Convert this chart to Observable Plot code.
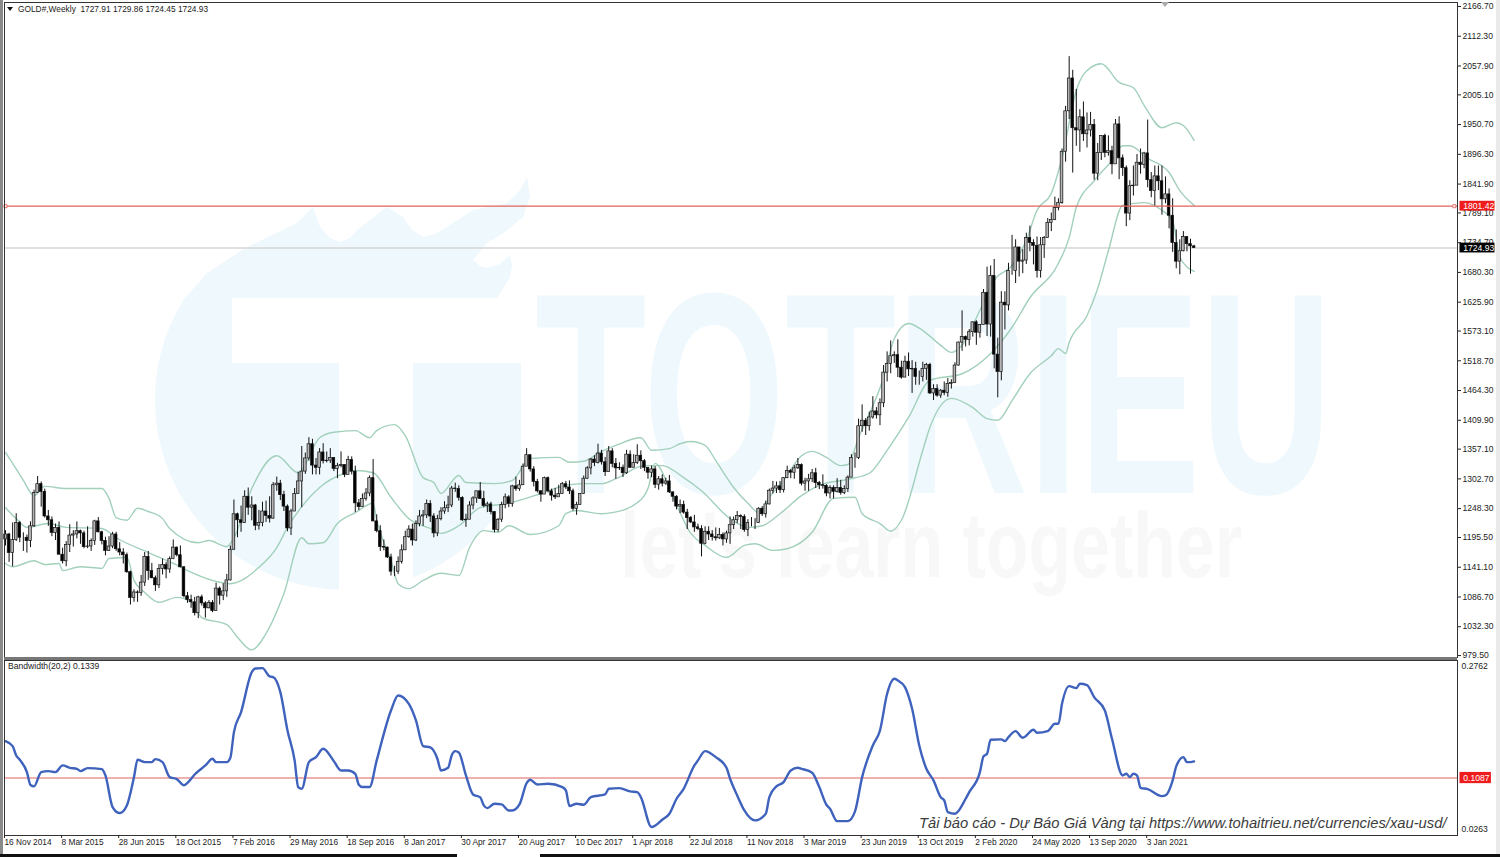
<!DOCTYPE html>
<html><head><meta charset="utf-8">
<script src="https://cdn.jsdelivr.net/npm/d3@7"></script>
<script src="https://cdn.jsdelivr.net/npm/@observablehq/plot@0.6"></script>
<style>
html,body{margin:0;padding:0;background:#fff;width:1500px;height:857px;overflow:hidden}
#page{position:relative;width:1500px;height:857px;font-family:"Liberation Sans",Arial,sans-serif}
#page>div,#page>svg{position:absolute}
.wmb{background:#eef8fd}.wmw{background:#fff}
#main,#lower{z-index:2}
#main{left:0;top:0}#lower{left:0;top:657px}
</style></head><body>
<div id="page">
<div class="wmb" style="left:155px;top:210px;width:380px;height:380px;border-radius:50%;clip-path:inset(88px 0 0 0)"></div>
<div class="wmb" style="left:0;top:0;width:1500px;height:857px;clip-path:polygon(185px 298px,207px 273px,247px 247px,297px 223px,313px 207px,320px 227px,330px 238px,340px 242px,350px 238px,357px 230px,387px 207px,403px 217px,412px 230px,423px 237px,435px 234px,447px 227px,473px 210px,507px 203px,520px 190px,527px 177px,530px 197px,523px 217px,505px 232px,487px 243px,473px 260px,480px 266px,487px 268px,500px 264px,510px 255px,512px 265px,510px 277px,497px 298px)"></div>
<div class="wmw" style="left:232px;top:298px;width:303px;height:65px"></div>
<div class="wmw" style="left:339px;top:363px;width:74px;height:232px"></div>
<div class="wmw" style="left:521px;top:298px;width:40px;height:262px"></div>
<svg style="left:0;top:0;z-index:1" width="1500" height="857">
<text transform="translate(535,493) scale(0.6355,1)" font-family="Liberation Sans" font-weight="700" font-size="287" fill="#eef8fd">TOTRIEU</text>
<text transform="translate(620,577) scale(0.759,1)" font-family="Liberation Sans" font-weight="700" font-size="92" fill="#f8f8f8">let's learn together</text>
</svg>
<div style="left:0;top:0;width:3px;height:857px;background:#8a8a8a;z-index:3"></div>
<div style="left:1496px;top:0;width:4px;height:857px;background:#eaeaea"></div>
<div style="left:0;top:854px;width:457px;height:3px;background:#111;z-index:3"></div>
<div style="left:540px;top:854px;width:960px;height:3px;background:#111;z-index:3"></div>
<div id="main"></div>
<div id="lower"></div>
<div style="left:4px;top:656.5px;width:1453px;height:3px;background:#777;z-index:3"></div>
<div style="left:7px;top:6.5px;z-index:4;width:0;height:0;border-left:3.5px solid transparent;border-right:3.5px solid transparent;border-top:4px solid #111"></div>
<div style="left:18px;top:4px;z-index:4;font-size:8.35px;color:#222;white-space:pre;line-height:10px">GOLD#,Weekly  1727.91 1729.86 1724.45 1724.93</div>
<div style="left:8px;top:661px;z-index:4;font-size:8.6px;color:#222;white-space:pre;line-height:10px">Bandwidth(20,2) 0.1339</div>
<div style="left:1161px;top:2px;z-index:4;width:0;height:0;border-left:4px solid transparent;border-right:4px solid transparent;border-top:5px solid #aaa"></div>
<div style="left:919px;top:814px;z-index:4;font-size:14.75px;font-style:italic;color:#3c3c3c;white-space:pre;line-height:18px">Tải báo cáo - Dự Báo Giá Vàng tại https://www.tohaitrieu.net/currencies/xau-usd/</div>
</div>
<script>
const opens=[1192,1201,1167,1191,1222,1195,1195,1189,1216,1277,
1293,1279,1234,1227,1204,1213,1164,1152,1182,1199,
1201,1207,1203,1178,1179,1189,1225,1205,1189,1171,
1179,1201,1174,1168,1163,1132,1085,1095,1094,1113,
1160,1134,1121,1108,1138,1145,1137,1156,1177,1163,
1141,1088,1081,1077,1057,1086,1075,1066,1076,1061,
1102,1089,1097,1117,1173,1238,1227,1222,1270,1250,
1254,1217,1222,1243,1235,1230,1291,1294,1273,1252,
1212,1243,1275,1298,1316,1340,1366,1327,1323,1351,
1335,1336,1341,1321,1326,1328,1310,1337,1316,1258,
1251,1266,1276,1304,1225,1207,1178,1177,1159,1133,
1133,1151,1172,1196,1210,1190,1220,1234,1236,1257,
1234,1203,1229,1243,1249,1254,1285,1284,1268,1227,
1228,1254,1267,1280,1266,1253,1256,1242,1209,1228,
1255,1269,1257,1289,1284,1291,1325,1346,1320,1297,
1280,1274,1304,1280,1272,1269,1275,1293,1287,1280,
1248,1255,1275,1303,1322,1338,1332,1349,1333,1315,
1353,1330,1322,1323,1313,1347,1323,1332,1345,1335,
1323,1314,1320,1292,1302,1294,1298,1278,1270,1252,
1255,1241,1231,1223,1214,1211,1184,1206,1201,1196,
1194,1200,1192,1203,1218,1227,1235,1233,1209,1222,
1222,1222,1248,1238,1256,1281,1285,1289,1282,1304,
1317,1314,1322,1328,1294,1298,1302,1313,1295,1291,
1290,1276,1286,1279,1286,1277,1284,1305,1341,1341,
1399,1409,1399,1415,1426,1419,1441,1497,1513,1527,
1529,1506,1488,1517,1503,1504,1489,1489,1504,1511,
1459,1467,1455,1464,1460,1476,1478,1510,1552,1562,
1557,1571,1589,1570,1584,1643,1585,1674,1530,1498,
1625,1620,1683,1683,1726,1700,1702,1743,1734,1729,
1683,1730,1743,1771,1776,1798,1807,1901,1975,2035,
1944,1940,1964,1933,1940,1950,1861,1899,1930,1899,
1902,1878,1951,1889,1871,1788,1838,1839,1881,1877,
1898,1849,1829,1856,1847,1814,1823,1784,1734,1700,
1719,1745,1732,1727.91];
const highs=[1208,1203,1222,1239,1225,1204,1200,1224,1282,1307,
1297,1284,1245,1233,1220,1224,1176,1188,1219,1208,
1224,1209,1207,1215,1193,1227,1232,1207,1196,1197,
1205,1205,1186,1175,1167,1134,1100,1098,1126,1168,
1170,1148,1125,1146,1156,1150,1160,1191,1178,1180,
1142,1095,1090,1086,1088,1090,1078,1080,1080,1112,
1105,1111,1128,1180,1264,1240,1253,1281,1286,1270,
1256,1245,1260,1262,1270,1296,1306,1300,1280,1255,
1247,1285,1315,1362,1350,1378,1375,1340,1358,1367,
1352,1358,1341,1331,1352,1328,1344,1343,1326,1265,
1275,1285,1308,1338,1237,1217,1191,1178,1165,1143,
1160,1182,1207,1217,1220,1226,1245,1245,1264,1263,
1239,1236,1250,1261,1271,1289,1295,1290,1270,1238,
1261,1270,1280,1296,1280,1260,1260,1242,1230,1260,
1275,1272,1291,1306,1300,1330,1358,1346,1325,1302,
1281,1306,1306,1284,1285,1291,1296,1298,1299,1284,
1260,1276,1308,1325,1340,1345,1366,1355,1342,1362,
1358,1340,1332,1328,1355,1354,1347,1365,1354,1338,
1320,1326,1325,1307,1310,1304,1309,1279,1272,1264,
1262,1247,1234,1236,1220,1217,1215,1215,1208,1213,
1212,1204,1207,1233,1233,1243,1237,1237,1228,1232,
1230,1250,1252,1262,1284,1298,1297,1298,1305,1326,
1320,1327,1340,1330,1304,1311,1320,1322,1298,1310,
1292,1290,1290,1303,1300,1290,1308,1347,1350,1412,
1438,1413,1425,1453,1433,1449,1510,1535,1555,1535,
1557,1518,1527,1533,1519,1516,1500,1516,1514,1514,
1475,1475,1466,1480,1486,1484,1515,1553,1610,1564,
1576,1590,1592,1585,1649,1690,1692,1704,1560,1645,
1645,1697,1748,1740,1722,1722,1752,1765,1740,1745,
1744,1746,1779,1789,1818,1815,1906,1984,2075,2050,
2015,1978,1992,1972,1973,1960,1916,1930,1933,1930,
1911,1960,1965,1895,1875,1848,1875,1896,1906,1900,
1959,1863,1875,1875,1875,1855,1833,1815,1758,1740,
1755,1745,1741,1729.86];
const lows=[1180,1150,1142,1188,1186,1170,1167,1177,1214,1276,
1251,1231,1216,1197,1190,1164,1147,1142,1168,1178,
1193,1183,1175,1175,1170,1181,1204,1182,1162,1170,
1175,1170,1162,1147,1130,1072,1077,1077,1088,1106,
1117,1120,1097,1102,1127,1120,1130,1155,1160,1140,
1085,1075,1066,1052,1047,1070,1048,1065,1058,1061,
1072,1080,1086,1116,1173,1195,1205,1221,1236,1226,
1208,1209,1215,1223,1222,1229,1280,1263,1243,1206,
1199,1243,1275,1250,1311,1335,1310,1310,1310,1330,
1332,1331,1316,1303,1323,1305,1313,1310,1241,1245,
1252,1262,1270,1224,1204,1170,1171,1157,1125,1124,
1128,1147,1172,1194,1180,1188,1215,1216,1230,1223,
1195,1197,1226,1238,1241,1250,1278,1262,1225,1214,
1228,1246,1258,1265,1250,1241,1237,1204,1205,1223,
1248,1250,1251,1280,1280,1291,1325,1315,1288,1277,
1260,1280,1277,1262,1265,1272,1275,1283,1274,1244,
1236,1255,1275,1302,1310,1325,1330,1328,1307,1316,
1323,1302,1318,1305,1311,1322,1326,1329,1320,1316,
1302,1305,1285,1282,1288,1291,1276,1260,1246,1239,
1238,1210,1221,1205,1208,1160,1182,1190,1189,1189,
1192,1180,1185,1183,1210,1221,1210,1205,1197,1215,
1210,1221,1234,1231,1255,1275,1276,1276,1277,1303,
1303,1302,1320,1290,1280,1280,1296,1285,1283,1284,
1270,1266,1266,1277,1273,1274,1278,1305,1322,1338,
1388,1382,1390,1412,1412,1400,1433,1480,1495,1514,
1488,1485,1488,1490,1459,1474,1474,1480,1483,1457,
1446,1452,1450,1455,1452,1467,1477,1509,1536,1544,
1546,1562,1547,1560,1585,1563,1562,1504,1451,1482,
1575,1610,1675,1660,1672,1678,1695,1718,1694,1670,
1670,1706,1744,1755,1775,1793,1805,1882,1960,1862,
1911,1900,1920,1908,1928,1849,1848,1885,1890,1893,
1859,1880,1850,1856,1764,1775,1820,1850,1860,1870,
1835,1817,1802,1830,1785,1806,1760,1717,1687,1676,
1718,1718,1677,1724.45];
const closes=[1201,1167,1191,1222,1195,1195,1189,1216,1277,1293,
1279,1234,1227,1204,1213,1164,1152,1182,1199,1201,
1207,1203,1178,1179,1189,1225,1205,1189,1171,1179,
1201,1174,1168,1163,1132,1085,1095,1094,1113,1160,
1134,1121,1108,1138,1145,1137,1156,1177,1163,1141,
1088,1081,1077,1057,1086,1075,1066,1076,1061,1102,
1089,1097,1117,1173,1238,1227,1222,1270,1250,1254,
1217,1222,1243,1235,1230,1291,1294,1273,1252,1212,
1243,1275,1298,1316,1340,1366,1327,1323,1351,1335,
1336,1341,1321,1326,1328,1310,1337,1316,1258,1251,
1266,1276,1304,1225,1207,1178,1177,1159,1133,1133,
1151,1172,1196,1210,1190,1220,1234,1236,1257,1234,
1203,1229,1243,1249,1254,1285,1284,1268,1227,1228,
1254,1267,1280,1266,1253,1256,1242,1209,1228,1255,
1269,1257,1289,1284,1291,1325,1346,1320,1297,1280,
1274,1304,1280,1272,1269,1275,1293,1287,1280,1248,
1255,1275,1303,1322,1338,1332,1349,1333,1315,1353,
1330,1322,1323,1313,1347,1323,1332,1345,1335,1323,
1314,1320,1292,1302,1294,1298,1278,1270,1252,1255,
1241,1231,1223,1214,1211,1184,1206,1201,1196,1194,
1200,1192,1203,1218,1227,1235,1233,1209,1222,1222,
1222,1248,1238,1256,1281,1285,1289,1282,1304,1317,
1314,1322,1328,1294,1298,1302,1313,1295,1291,1290,
1276,1286,1279,1286,1277,1284,1305,1341,1341,1399,
1409,1399,1415,1426,1419,1441,1497,1513,1527,1529,
1506,1488,1517,1503,1504,1489,1489,1504,1511,1459,
1467,1455,1464,1460,1476,1478,1510,1552,1562,1557,
1571,1589,1570,1584,1643,1585,1674,1530,1498,1625,
1620,1683,1683,1726,1700,1702,1743,1734,1729,1683,
1730,1743,1771,1776,1798,1807,1901,1975,2035,1944,
1940,1964,1933,1940,1950,1861,1899,1930,1899,1902,
1878,1951,1889,1871,1788,1838,1839,1881,1877,1898,
1849,1829,1856,1847,1814,1823,1784,1734,1700,1719,
1745,1732,1728,1724.93];

const upperWeek=[0,2,5,8,11,17,27,29,31,34,37,40,44,46,54,57,62,64,69,76,82,88,92,98,102,104,109,112,117,120,122,127,129,137,142,147,155,158,162,167,171,178,181,186,189,192,196,199,204,208,211,214,218,223,226,230,234,236,239,246,249,253,257,262,265,268,273,277,282,286,289,293,296,300,304,307,312,316,319,324,328,330,333];
const upperBand=[1351,1331,1300,1272,1289,1285,1285,1267,1232,1227,1249,1243,1230,1212,1186,1190,1179,1195,1285,1345,1314,1378,1388,1391,1378,1391,1402,1382,1305,1296,1276,1309,1296,1294,1300,1340,1342,1333,1335,1353,1364,1378,1355,1358,1367,1371,1364,1336,1287,1258,1241,1269,1300,1345,1353,1342,1327,1329,1378,1488,1559,1587,1574,1547,1534,1547,1611,1666,1693,1739,1794,1825,1890,2013,2055,2062,2028,2018,1986,1945,1954,1949,1922];
const midWeek=[0,3,6,12,17,27,31,40,47,51,58,63,71,76,79,83,88,95,98,103,108,113,119,122,127,133,141,150,157,162,167,171,179,184,190,195,203,208,212,217,223,228,236,242,247,253,259,268,276,282,287,295,298,300,305,310,313,315,320,326,329,333];
const midBand=[1250,1230,1214,1221,1214,1212,1195,1168,1148,1135,1117,1111,1141,1177,1214,1252,1287,1313,1318,1314,1269,1230,1212,1203,1217,1250,1258,1276,1291,1294,1294,1303,1327,1327,1305,1281,1230,1214,1217,1239,1272,1291,1302,1313,1355,1415,1483,1495,1532,1580,1634,1697,1744,1799,1848,1885,1912,1912,1889,1863,1830,1803];
const lowerWeek=[0,2,8,11,15,16,21,27,29,34,36,39,43,48,52,55,62,65,69,73,78,83,85,89,93,98,103,104,108,110,113,117,122,127,130,134,138,141,147,155,157,160,167,170,177,180,182,187,192,196,202,207,210,215,219,226,232,238,240,245,248,251,257,259,265,271,275,278,282,287,293,295,297,298,303,306,309,313,319,324,327,329,333];
const lowerBand=[1148,1142,1153,1146,1148,1135,1142,1139,1157,1159,1117,1095,1077,1086,1077,1049,1036,1013,990,1020,1093,1195,1184,1186,1221,1241,1258,1227,1153,1111,1102,1117,1130,1126,1177,1208,1205,1217,1201,1217,1239,1245,1239,1241,1259,1285,1331,1269,1203,1181,1159,1181,1184,1172,1175,1205,1267,1269,1239,1221,1207,1227,1355,1397,1450,1433,1413,1410,1446,1495,1528,1541,1532,1552,1601,1651,1720,1803,1808,1794,1775,1708,1682];

const widthWeek=[0,2,3,4,6,7,8,10,12,14,16,18,20,21,23,27,28,30,32,34,36,37,39,41,42,44,46,48,50,51,53,56,58,59,62,63,64,66,69,70,72,74,75,77,79,81,82,83,85,87,89,92,94,96,98,99,100,102,104,108,110,
113,115,117,119,121,122,124,125,126,127,129,131,133,134,135,137,139,141,142,144,146,147,149,152,156,157,158,160,162,164,168,169,172,175,177,178,181,184,186,188,190,193,194,196,199,202,203,205,207,210,213,214,216,218,220,222,
223,226,228,230,231,233,236,238,240,243,245,247,249,250,252,254,256,258,260,262,263,264,266,269,270,273,274,275,276,279,280,281,283,285,288,289,292,294,295,296,298,300,301,303,305,308,310,313,314,315,316,317,318,320,324,325,327,328,330,331,332,333];
const widthValue=[.1646,.1571,.1429,.1364,.1177,.0980,.0960,.1177,.1192,.1177,.1278,.1242,.1227,.1192,.1237,.1222,.1126,.0647,.0556,.0672,.1101,.1364,.1328,.1328,.1374,.1328,.1101,.1071,.0975,.1015,.1141,.1278,.1379,.1328,.1328,.1394,.1783,.2086,.2692,.2747,.2752,.2626,.2616,.2389,.1808,.1354,.0950,.0924,.1328,.1404,.1530,.1343,.1202,.1202,.1151,.0985,.0950,.0950,.1354,.2111,.2338,
.2212,.1960,.1571,.1550,.1379,.1202,.1242,.1429,.1495,.1475,.1126,.0838,.0793,.0672,.0631,.0697,.0687,.0596,.0596,.0687,.1010,.1061,.0990,.1000,.0949,.0899,.0662,.0697,.0682,.0798,.0838,.0924,.0934,.0884,.0874,.0798,.0344,.0455,.0546,.0773,.0924,.1278,.1354,.1495,.1404,.1242,.1076,.0823,.0596,.0445,.0546,.0798,.0960,.1025,.1202,.1242,
.1227,.1167,.0950,.0682,.0621,.0434,.0434,.0581,.1101,.1581,.1808,.2364,.2591,.2565,.2464,.2136,.1581,.1227,.1051,.0798,.0748,.0571,.0546,.0773,.0874,.1177,.1414,.1455,.1667,.1672,.1646,.1707,.1798,.1697,.1818,.1773,.1798,.1909,.1909,.2212,.2480,.2449,.2515,.2495,.2313,.2111,.1682,.1126,.1152,.1101,.1152,.1126,.0939,.0919,.0813,.0823,.1051,.1263,.1404,.1328,.1328,.1339];

const priceTicks=[2166.70,2112.30,2057.90,2005.10,1950.70,1896.30,1841.90,1789.10,1734.70,1680.30,1625.90,1573.10,1518.70,1464.30,1409.90,1357.10,1302.70,1248.30,1195.50,1141.10,1086.70,1032.30,979.50];
const widthTopTick=[0.2762], widthBottomTick=[0.0263];
const dateWeeks=[0,16,32,48,64,80,96,112,128,144,160,176,192,208,224,240,256,272,288,304,320];
const dateLabels=["16 Nov 2014","8 Mar 2015","28 Jun 2015","18 Oct 2015","7 Feb 2016","29 May 2016","18 Sep 2016","8 Jan 2017","30 Apr 2017","20 Aug 2017","10 Dec 2017","1 Apr 2018","22 Jul 2018","11 Nov 2018","3 Mar 2019","23 Jun 2019","13 Oct 2019","2 Feb 2020","24 May 2020","13 Sep 2020","3 Jan 2021"];
const resistance=1801.42, lastPrice=1724.93, widthLevel=0.1087;

const candles=closes.map((c,i)=>({i,o:opens[i],h:highs[i],l:lows[i],c}));
const band=(w,v)=>w.map((x,k)=>({x,y:v[k]}));
const bandColor="#a2d0bb", font={fontFamily:"Liberation Sans",fontSize:"8.6px",color:"#222",background:"transparent"};
const xDomain=[-0.28,406.8];
const tagX1=407.5, tagX2=417.3;

const main=Plot.plot({
  width:1500,height:660,marginLeft:4,marginRight:43,marginTop:2,marginBottom:3,style:font,
  x:{domain:xDomain,axis:null},
  y:{domain:[976,2174],axis:null},
  marks:[
    Plot.ruleY([lastPrice],{stroke:"#d6d6d6",strokeWidth:1.6}),
    Plot.line(band(upperWeek,upperBand),{x:"x",y:"y",stroke:bandColor,strokeWidth:1.4,curve:"monotone-x"}),
    Plot.line(band(midWeek,midBand),{x:"x",y:"y",stroke:bandColor,strokeWidth:1.4,curve:"monotone-x"}),
    Plot.line(band(lowerWeek,lowerBand),{x:"x",y:"y",stroke:bandColor,strokeWidth:1.4,curve:"monotone-x"}),
    Plot.ruleX(candles,{x:"i",y1:"l",y2:"h",stroke:"#111",strokeWidth:1}),
    Plot.rect(candles,{x1:d=>d.i-0.37,x2:d=>d.i+0.37,y1:d=>Math.min(d.o,d.c),y2:d=>Math.max(d.o,d.c),
      fill:d=>d.c>=d.o?"#b5b5b5":"#000",stroke:"#111",strokeWidth:0.7}),
    Plot.ruleY([resistance],{stroke:"#e2625c",strokeWidth:1.3}),
    Plot.dot([0,405.9],{x:d=>d,y:()=>resistance,symbol:"square",r:1.7,fill:"#fff",stroke:"#e2625c",strokeWidth:0.9}),
    Plot.frame({stroke:"#333",strokeWidth:1}),
    Plot.axisY(priceTicks,{anchor:"right",ticks:priceTicks,tickSize:3,tickPadding:2,tickFormat:d=>d.toFixed(2),label:null,fill:"#222",fontSize:8.6}),
    Plot.rect([lastPrice],{x1:()=>tagX1,x2:()=>tagX2,y1:d=>d-9,y2:d=>d+9,fill:"#000"}),
    Plot.text([lastPrice],{x:()=>tagX1+0.9,y:d=>d,text:d=>d.toFixed(2),fill:"#fff",textAnchor:"start",fontSize:8.6}),
    Plot.rect([resistance],{x1:()=>tagX1,x2:()=>tagX2,y1:d=>d-9,y2:d=>d+9,fill:"#ee1c1c"}),
    Plot.text([resistance],{x:()=>tagX1+0.9,y:d=>d,text:d=>d.toFixed(2),fill:"#fff",textAnchor:"start",fontSize:8.6})
  ]
});
document.getElementById("main").appendChild(main);

const lower=Plot.plot({
  width:1500,height:200,marginLeft:4,marginRight:43,marginTop:3,marginBottom:22,style:font,
  x:{domain:xDomain,axis:null},
  y:{domain:[0.0216,0.2868],axis:null},
  marks:[
    Plot.ruleY([widthLevel],{stroke:"#e2625c",strokeWidth:1.2}),
    Plot.line(band(widthWeek,widthValue),{x:"x",y:"y",stroke:"#3f62bd",strokeWidth:2.4,strokeLinejoin:"round",curve:"monotone-x"}),
    Plot.frame({stroke:"#333",strokeWidth:1}),
    Plot.axisX(dateWeeks,{anchor:"bottom",ticks:dateWeeks,tickSize:3,tickPadding:1,tickFormat:d=>dateLabels[dateWeeks.indexOf(d)],textAnchor:"start",dx:-1,label:null,fill:"#222",fontSize:8.3}),
    Plot.axisY(widthTopTick,{anchor:"right",ticks:widthTopTick,tickSize:0,tickPadding:4,dy:-1,tickFormat:d=>d.toFixed(4),label:null,fill:"#222",fontSize:8.6}),
    Plot.axisY(widthBottomTick,{anchor:"right",ticks:widthBottomTick,tickSize:0,tickPadding:4,dy:-3,tickFormat:d=>d.toFixed(4),label:null,fill:"#222",fontSize:8.6}),
    Plot.rect([widthLevel],{x1:()=>tagX1,x2:()=>tagX2-1,y1:d=>d-0.0085,y2:d=>d+0.0085,fill:"#ee1c1c"}),
    Plot.text([widthLevel],{x:()=>tagX1+0.9,y:d=>d,text:d=>d.toFixed(4),fill:"#fff",textAnchor:"start",fontSize:8.6})
  ]
});
document.getElementById("lower").appendChild(lower);
</script>
</body></html>
